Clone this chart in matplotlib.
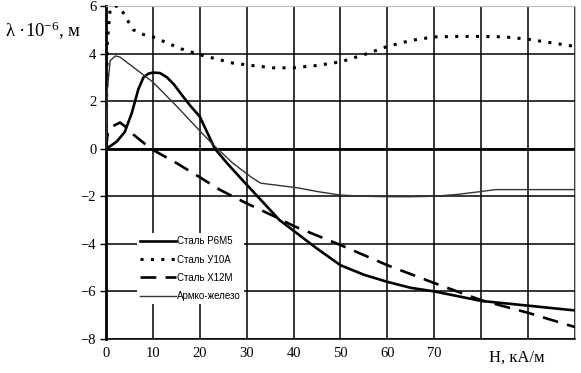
import matplotlib
matplotlib.use("Agg")
import matplotlib.pyplot as plt

# ---- data ----
r6m5_x = [0, 1, 2.3, 4, 5.5, 6.9, 8, 9, 10, 11.5, 13, 14.5, 16.4, 18, 20, 23.2, 26, 29, 33, 37, 40, 45, 50, 55, 60, 65, 70, 75, 80, 85, 90, 95, 100]
r6m5_y = [0, 0.12, 0.3, 0.7, 1.5, 2.5, 3.0, 3.15, 3.2, 3.18, 3.0, 2.7, 2.2, 1.8, 1.35, 0.0, -0.65, -1.3, -2.15, -3.0, -3.45, -4.2, -4.9, -5.3, -5.6, -5.85, -6.0, -6.2, -6.4, -6.5, -6.6, -6.7, -6.8]

u10a_x = [0, 0.3, 0.9, 2, 3, 4, 5.8, 8, 10, 13, 16, 20, 23, 27, 31, 35.6, 40, 45, 50, 55, 60, 65, 70, 75, 80, 85, 90, 95, 100]
u10a_y = [0, 4.5, 5.9, 6.0, 5.95, 5.6, 5.0, 4.8, 4.7, 4.45, 4.2, 3.95, 3.8, 3.6, 3.5, 3.4, 3.4, 3.5, 3.65, 3.95, 4.3, 4.55, 4.7, 4.72, 4.72, 4.7, 4.6, 4.45, 4.3]

x12m_x = [0, 0.4, 1.5, 3, 4, 5.8, 8, 10, 15, 20, 24.3, 30, 36.5, 40, 50, 60, 70, 80, 90, 100]
x12m_y = [0, 0.7, 0.95, 1.1, 0.95, 0.6, 0.25, -0.05, -0.6, -1.2, -1.73, -2.3, -2.9, -3.25, -4.05, -4.9, -5.65, -6.37, -6.9, -7.5]

armco_x = [0, 0.3, 0.9, 2, 3, 5, 10, 15, 20, 23.2, 27, 31, 33, 37, 41, 45, 50, 55, 60, 65, 70, 75, 80, 83, 90, 100]
armco_y = [0, 2.5, 3.7, 3.9, 3.85, 3.55, 2.8, 1.8, 0.75, 0.1, -0.6, -1.2, -1.45, -1.55, -1.65, -1.8, -1.95, -2.0, -2.02, -2.02, -2.0, -1.92, -1.8, -1.72, -1.72, -1.72]

labels = ["Сталь Р6М5", "Сталь У10А", "Сталь Х12М", "Армко-железо"]
x_ticks = [0, 10, 20, 30, 40, 50, 60, 70, 80, 90, 100]
x_tick_labels = ["0", "10", "20", "30", "40", "50", "60", "70", "", "", ""]
y_ticks = [-8, -6, -4, -2, 0, 2, 4, 6]

plt.rcParams["font.family"] = ["Liberation Serif", "DejaVu Serif"]
plt.rcParams["mathtext.default"] = "regular"

fig = plt.figure(figsize=(5.81, 3.73), dpi=100)
ax = fig.add_axes([0.1824, 0.0912, 0.8073, 0.8928])

ax.plot(r6m5_x, r6m5_y, color="black", lw=1.9, label=labels[0], zorder=3)
ax.plot(u10a_x, u10a_y, color="black", lw=2.2, linestyle=(0, (1, 2.4)), label=labels[1], zorder=3)
ax.plot(x12m_x, x12m_y, color="black", lw=1.9, linestyle=(0, (6, 3.5)), label=labels[2], zorder=3)
ax.plot(armco_x, armco_y, color="#333333", lw=1.0, label=labels[3], zorder=3)

ax.set_xlim(0, 100)
ax.set_ylim(-8, 6)
ax.set_xticks(x_ticks)
ax.set_xticklabels(x_tick_labels)
ax.set_yticks(y_ticks)
ax.set_yticklabels([str(v).replace("-", "\u2212") for v in y_ticks])
ax.tick_params(axis="x", length=0, pad=6, labelsize=10.5)
ax.tick_params(axis="y", length=4, width=1, pad=3, labelsize=10.5)

ax.grid(True, color="black", lw=1.1, zorder=0)
ax.axhline(0, color="black", lw=2.0, zorder=1)
ax.set_axisbelow(True)

ax.spines["left"].set_linewidth(2.0)
ax.spines["bottom"].set_linewidth(1.1)
ax.spines["top"].set_color("#bbbbbb")
ax.spines["right"].set_color("#bbbbbb")

leg = ax.legend(loc="lower left", bbox_to_anchor=(0.066, 0.105, 0.23, 0.21),
                frameon=True, fancybox=False, handlelength=3.7, handletextpad=0.15,
                labelspacing=0.85, borderpad=0.3, borderaxespad=0,
                prop={"family": ["Liberation Sans", "DejaVu Sans"], "size": 7})
leg.get_frame().set_facecolor("white")
leg.get_frame().set_edgecolor("none")
leg.get_frame().set_alpha(1)
leg.set_zorder(5)

fig.text(0.008, 0.918, "λ ·10$^{-6}$, м", fontsize=13.5, ha="left", va="center")
fig.text(0.89, 0.042, "H, кА/м", fontsize=12, ha="center", va="center")

fig.savefig("out.png", dpi=100)
